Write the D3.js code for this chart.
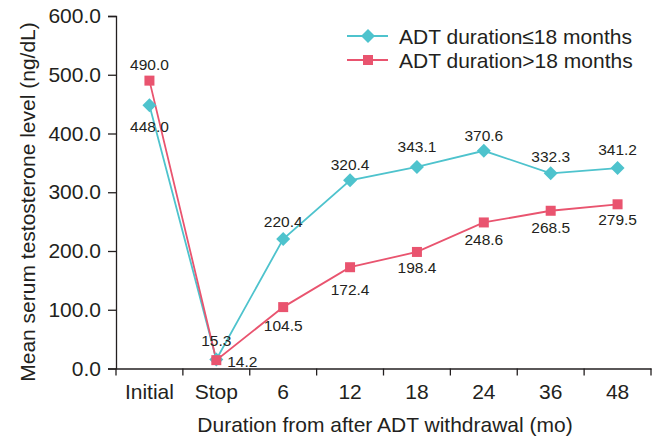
<!DOCTYPE html>
<html><head><meta charset="utf-8">
<script src="https://cdn.jsdelivr.net/npm/d3@7"></script>
<style>body{margin:0;background:#fff}svg{display:block}</style>
</head><body>
<svg id="c" width="659" height="439"></svg>
<script>
const categories = ["Initial","Stop","6","12","18","24","36","48"];
const shortADT = [448.0, 15.3, 220.4, 320.4, 343.1, 370.6, 332.3, 341.2];
const longADT  = [490.0, 14.2, 104.5, 172.4, 198.4, 248.6, 268.5, 279.5];
const yTicks = [0,100,200,300,400,500,600];
const seriesNames = ["ADT duration\u226418 months","ADT duration>18 months"];

const cyan = "#4ec3cd", pink = "#e9546f", ink = "#231f20";
const svg = d3.select("#c");
const font = "Arial, 'Liberation Sans', sans-serif";
const x = d3.scaleBand().domain(categories).range([116,651]);
const y = d3.scaleLinear().domain([0,600]).range([368.5,16]);

// axes
const yAxis = d3.axisLeft(y).tickValues(yTicks).tickFormat(d3.format(".1f")).tickSize(8).tickPadding(7);
const gy = svg.append("g").attr("transform","translate(116,0)").call(yAxis);
gy.select(".domain").attr("stroke",ink).attr("stroke-width",1.3);
gy.selectAll(".tick line").attr("stroke",ink).attr("stroke-width",1.3);
gy.selectAll("text").attr("font-family",font).attr("font-size",21).attr("fill",ink);

const xAxis = d3.axisBottom(x).tickSize(0).tickPadding(16);
const gx = svg.append("g").attr("transform","translate(0,368.5)").call(xAxis);
gx.select(".domain").attr("stroke",ink).attr("stroke-width",1.3);
gx.selectAll("text").attr("font-family",font).attr("font-size",21).attr("fill",ink);
// boundary ticks
const bounds = categories.map(c=>x(c)).concat([x.range()[1]]);
gx.selectAll(".btick").data(bounds).enter().append("line")
  .attr("x1",d=>d).attr("x2",d=>d).attr("y1",0).attr("y2",7)
  .attr("stroke",ink).attr("stroke-width",1.3);

// titles
svg.append("text").attr("x",385).attr("y",432).attr("text-anchor","middle")
  .attr("font-family",font).attr("font-size",21).attr("fill",ink)
  .text("Duration from after ADT withdrawal (mo)");
svg.append("text").attr("transform","translate(35,202) rotate(-90)").attr("text-anchor","middle")
  .attr("font-family",font).attr("font-size",21).attr("fill",ink)
  .text("Mean serum testosterone level (ng/dL)");

const cx = c => x(c) + x.bandwidth()/2;
const line = d3.line().x((d,i)=>cx(categories[i])).y(d=>y(d));

function diamond(g, px, py){
  g.append("path").attr("d",`M${px},${py-7}L${px+7},${py}L${px},${py+7}L${px-7},${py}Z`).attr("fill",cyan);
}
function square(g, px, py){
  g.append("rect").attr("x",px-5).attr("y",py-5).attr("width",10).attr("height",10).attr("fill",pink);
}

// lines
svg.append("path").datum(shortADT).attr("d",line).attr("fill","none").attr("stroke",cyan).attr("stroke-width",1.8);
svg.append("path").datum(longADT).attr("d",line).attr("fill","none").attr("stroke",pink).attr("stroke-width",1.8);

const gm = svg.append("g");
shortADT.forEach((v,i)=>diamond(gm, cx(categories[i]), y(v)));
longADT.forEach((v,i)=>square(gm, cx(categories[i]), y(v)));

// labels
const lab = svg.append("g").attr("font-family",font).attr("font-size",15.5).attr("fill",ink).attr("text-anchor","middle");
const shortOff = [[0,27],[0,-14],[0,-12],[0,-10],[0,-15],[0,-10],[0,-11],[0,-13]];
const longOff = [[0,-11],[26,7],[0,24],[0,28],[0,21],[0,23],[0,22],[0,21]];
shortADT.forEach((v,i)=>lab.append("text").attr("x",cx(categories[i])+shortOff[i][0]).attr("y",y(v)+shortOff[i][1]).text(v.toFixed(1)));
longADT.forEach((v,i)=>lab.append("text").attr("x",cx(categories[i])+longOff[i][0]).attr("y",y(v)+longOff[i][1]).text(v.toFixed(1)));

// legend
const lg = svg.append("g");
[[cyan,36,diamond],[pink,60,square]].forEach((r,i)=>{
  lg.append("line").attr("x1",347).attr("x2",388).attr("y1",r[1]).attr("y2",r[1]).attr("stroke",r[0]).attr("stroke-width",1.8);
  r[2](lg,368,r[1]);
  lg.append("text").attr("x",399).attr("y",r[1]+7.5).attr("font-family",font).attr("font-size",21).attr("fill",ink).text(seriesNames[i]);
});
</script>
</body></html>
